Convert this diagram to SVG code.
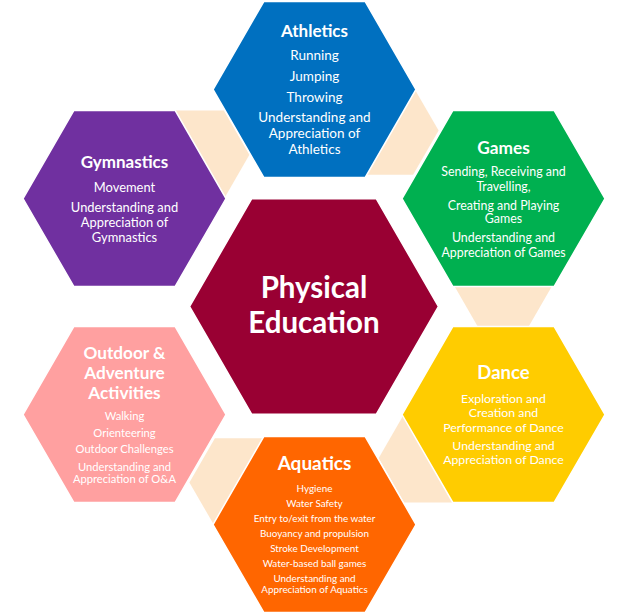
<svg xmlns="http://www.w3.org/2000/svg" width="628" height="614" viewBox="0 0 628 614">
<style>
.hex{stroke:#ffffff;stroke-width:1.5}
.con{fill:#FDE6CB}
text{font-family:Lato,"Open Sans",sans-serif;fill:#ffffff;text-anchor:middle}
.t{font-weight:bold}
</style>
<rect width="628" height="614" fill="#ffffff"/>
<g id="connectors">
<polygon class="con" points="147.4,154.8 172.9,110.6 223.9,110.6 249.4,154.8 223.9,199 172.9,199"/>
<polygon class="con" points="336.6,130.6 362.1,86.4 413.1,86.4 438.6,130.6 413.1,174.8 362.1,174.8"/>
<polygon class="con" points="452.2,282.3 477.7,238.1 528.7,238.1 554.2,282.3 528.7,326.5 477.7,326.5"/>
<polygon class="con" points="378.6,458.2 404.1,414 455.1,414 480.6,458.2 455.1,502.4 404.1,502.4"/>
<polygon class="con" points="189.4,482.4 214.9,438.2 265.9,438.2 291.4,482.4 265.9,526.6 214.9,526.6"/>
</g>
<g id="athletics">
<polygon class="hex" fill="#0070C0" points="213,89.5 263.75,1.6 365.25,1.6 416,89.5 365.25,177.4 263.75,177.4"/>
<text class="t" x="314.5" y="36.7" font-size="17">Athletics</text>
<text font-size="13.5"><tspan x="314.5" y="60">Running</tspan><tspan x="314.5" y="81">Jumping</tspan><tspan x="314.5" y="101.7">Throwing</tspan><tspan x="314.5" y="122.3">Understanding and</tspan><tspan x="314.5" y="138.3">Appreciation of</tspan><tspan x="314.5" y="154">Athletics</tspan></text>
</g>
<g id="games">
<polygon class="hex" fill="#00B050" points="402,198.5 452.75,110.6 554.25,110.6 605,198.5 554.25,286.4 452.75,286.4"/>
<text class="t" x="503.5" y="154.3" font-size="17.3">Games</text>
<text font-size="12.4"><tspan x="503.5" y="176">Sending, Receiving and</tspan><tspan x="503.5" y="190.7">Travelling,</tspan><tspan x="503.5" y="210">Creating and Playing</tspan><tspan x="503.5" y="223.3">Games</tspan><tspan x="503.5" y="242.3">Understanding and</tspan><tspan x="503.5" y="256.7">Appreciation of Games</tspan></text>
</g>
<g id="dance">
<polygon class="hex" fill="#FFCC00" points="402,414.5 452.75,326.6 554.25,326.6 605,414.5 554.25,502.4 452.75,502.4"/>
<text class="t" x="503.5" y="379.3" font-size="18.5">Dance</text>
<text font-size="12.3"><tspan x="503.5" y="403.3">Exploration and</tspan><tspan x="503.5" y="417.3">Creation and</tspan><tspan x="503.5" y="431.7">Performance of Dance</tspan><tspan x="503.5" y="450">Understanding and</tspan><tspan x="503.5" y="464.3">Appreciation of Dance</tspan></text>
</g>
<g id="aquatics">
<polygon class="hex" fill="#FF6600" points="213,524.5 263.75,436.6 365.25,436.6 416,524.5 365.25,612.4 263.75,612.4"/>
<text class="t" x="314.5" y="470" font-size="19">Aquatics</text>
<text font-size="9.9"><tspan x="314.5" y="491.7">Hygiene</tspan><tspan x="314.5" y="506.7">Water Safety</tspan><tspan x="314.5" y="521.7">Entry to/exit from the water</tspan><tspan x="314.5" y="536.7">Buoyancy and propulsion</tspan><tspan x="314.5" y="551.7">Stroke Development</tspan><tspan x="314.5" y="566.7">Water-based ball games</tspan><tspan x="314.5" y="581.7">Understanding and</tspan><tspan x="314.5" y="592.7">Appreciation of Aquatics</tspan></text>
</g>
<g id="outdoor">
<polygon class="hex" fill="#FFA0A0" points="23,414.5 73.75,326.6 175.25,326.6 226,414.5 175.25,502.4 73.75,502.4"/>
<text class="t" font-size="17.2"><tspan x="124.5" y="359.3">Outdoor &amp;</tspan><tspan x="124.5" y="379.3">Adventure</tspan><tspan x="124.5" y="399.3">Activities</tspan></text>
<text font-size="11.2"><tspan x="124.5" y="420">Walking</tspan><tspan x="124.5" y="436.7">Orienteering</tspan><tspan x="124.5" y="453.3">Outdoor Challenges</tspan><tspan x="124.5" y="470.7">Understanding and</tspan><tspan x="124.5" y="483.3">Appreciation of O&amp;A</tspan></text>
</g>
<g id="gymnastics">
<polygon class="hex" fill="#7030A0" points="23,198.5 73.75,110.6 175.25,110.6 226,198.5 175.25,286.4 73.75,286.4"/>
<text class="t" x="124.5" y="168.3" font-size="17">Gymnastics</text>
<text font-size="12.9"><tspan x="124.5" y="191.7">Movement</tspan><tspan x="124.5" y="211.7">Understanding and</tspan><tspan x="124.5" y="226.7">Appreciation of</tspan><tspan x="124.5" y="241.7">Gymnastics</tspan></text>
</g>
<g id="physical-education">
<polygon class="hex" fill="#990033" points="189.5,306.5 251.75,198.7 376.25,198.7 438.5,306.5 376.25,414.3 251.75,414.3"/>
<text class="t" font-size="29.5"><tspan x="314" y="298.3">Physical</tspan><tspan x="314" y="333.3">Education</tspan></text>
</g>
</svg>
